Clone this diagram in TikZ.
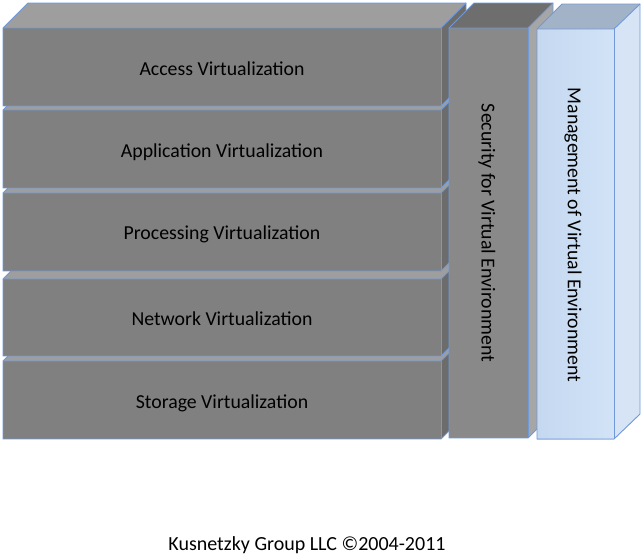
\documentclass[tikz,border=0pt]{standalone}
\usepackage{fontspec}
\setmainfont{Carlito}
\definecolor{edgeblue}{RGB}{111,153,215}
\definecolor{layerfront}{RGB}{128,128,128}
\definecolor{layertop}{RGB}{158,158,158}
\definecolor{layerside}{RGB}{108,108,108}
\definecolor{secfront}{RGB}{137,137,137}
\definecolor{sectop}{RGB}{110,110,110}
\definecolor{secside}{RGB}{166,166,166}
\definecolor{mgfrontA}{RGB}{196,216,240}
\definecolor{mgfrontB}{RGB}{210,227,247}
\definecolor{mgtop}{RGB}{163,179,199}
\definecolor{mgside}{RGB}{214,228,246}
\newcommand\mycuboid[7]{% x1,y1,x2,y2,front,top,side
  \fill[#6] (#1,#2) -- ++(25,-25) -- (#3+25,#2-25) -- (#3,#2) -- cycle;
  \fill[#7] (#3,#2) -- (#3+25,#2-25) -- (#3+25,#4-25) -- (#3,#4) -- cycle;
  \fill[#5] (#1,#2) rectangle (#3,#4);
  \draw[edge] (#1,#2) -- ++(25,-25) -- (#3+25,#2-25) -- (#3+25,#4-25) -- (#3,#4) -- (#1,#4) -- cycle;
  \draw[edge] (#1,#2) -- (#3,#2) -- (#3+25,#2-25);
  \draw[edge] (#3,#2) -- (#3,#4);
}
\begin{document}
\begin{tikzpicture}[x=1pt,y=-1pt,
  edge/.style={draw=edgeblue,line width=0.9pt,line join=miter},
  lbl/.style={font=\fontsize{19.8}{22}\selectfont,text=black,inner sep=0pt},
  vlbl/.style={lbl,rotate=-90}]
\useasboundingbox (0,0) rectangle (644,557);
% layers, bottom first
\mycuboid{3}{361}{441}{439}{layerfront}{layertop}{layerside}
\mycuboid{3}{279}{441}{356}{layerfront}{layertop}{layerside}
\mycuboid{3}{193}{441}{271}{layerfront}{layertop}{layerside}
\mycuboid{3}{110}{441}{188}{layerfront}{layertop}{layerside}
\mycuboid{3}{28}{441}{106}{layerfront}{layertop}{layerside}
\node[lbl] (access) at (222,69) {Access Virtualization};
\node[lbl] (app) at (222,152) {Application Virtualization};
\node[lbl] (proc) at (222,234) {Processing Virtualization};
\node[lbl] (net) at (222,319) {Network Virtualization};
\node[lbl] (stor) at (222,403) {Storage Virtualization};
% security column
\mycuboid{449}{28}{528}{438}{secfront}{sectop}{secside}
\node[vlbl] (sec) at (487,233) {Security for Virtual Environment};
% management column
\fill[mgtop] (537,29) -- ++(25,-25) -- (640,4) -- (614,29) -- cycle;
\fill[mgside] (614,29) -- (640,4) -- (640,414) -- (614,439) -- cycle;
\shade[left color=mgfrontA,right color=mgfrontB] (537,29) rectangle (614,439);
\draw[edge] (537,29) -- ++(25,-25) -- (640,4) -- (640,414) -- (614,439) -- (537,439) -- cycle;
\draw[edge] (537,29) -- (614,29) -- (640,4);
\draw[edge] (614,29) -- (614,439);
\node[vlbl] (mgmt) at (573,235) {Management of Virtual Environment};
% footer
\node[lbl,font=\fontsize{20}{22}\selectfont] (foot) at (307,545) {Kusnetzky Group LLC ©2004-2011};
\end{tikzpicture}
\end{document}
